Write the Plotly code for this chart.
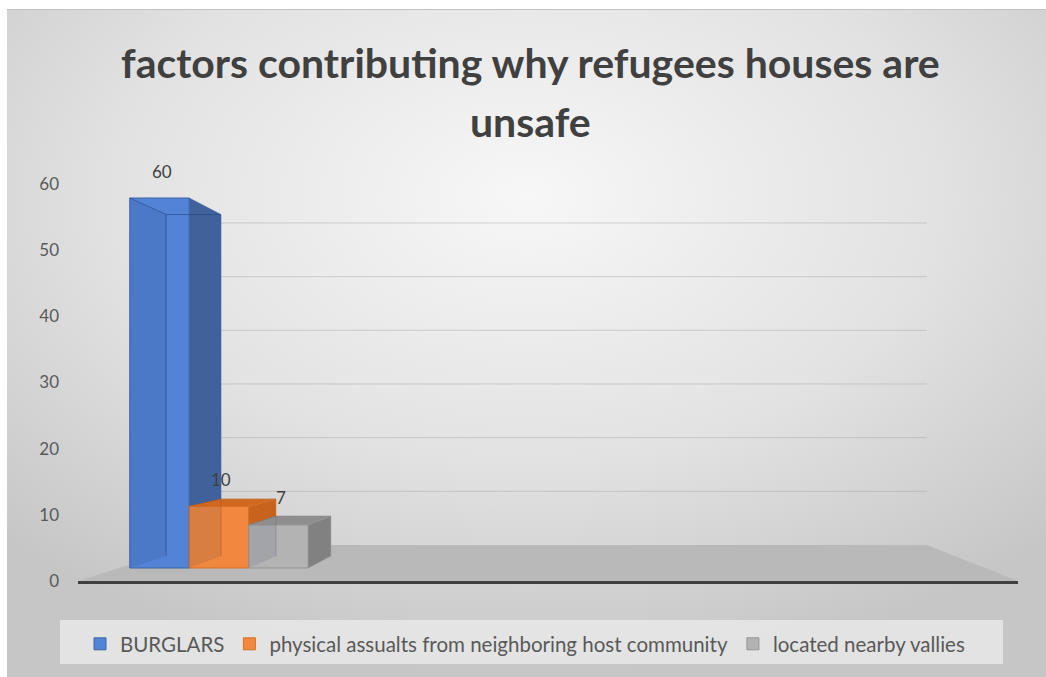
import base64
import plotly.graph_objects as go

# ---- data -------------------------------------------------------------
series_names = [
    "BURGLARS",
    "physical assualts from neighboring host community",
    "located nearby vallies",
]
series_values = [60, 10, 7]
tick_values = [0, 10, 20, 30, 40, 50, 60]
title_lines = ["factors contributing why refugees houses are", "unsafe"]

# ---- styling ----------------------------------------------------------
W, H = 1046, 677
front_colors = ["#5383d4", "#f0883f", "#b3b3b3"]
edge_colors = ["#3d64a8", "#d7701f", "#959595"]
top_colors = ["#4a6fae", "#d1681f", "#8e8e8e"]
side_colors = ["#41619a", "#c7631d", "#818181"]
hidden_colors = ["rgba(35,65,125,0.55)", "rgba(170,80,20,0.45)", "rgba(110,110,110,0.45)"]
font_family = "Lato, 'Open Sans', sans-serif"

# pixel geometry of the plotting box
PX_LEFT, PX_RIGHT = 78, 1018          # floor front edge / axis line
PX_ZERO, PX_TOP = 581, 184            # value-axis 0 and 60 labels
BAR_X0, BAR_UNIT = 159.5, 59.5        # centre of first bar, bar width (px)
BAR_BASE, BAR_SCALE = 568, 6.1667     # bar baseline (px) and px per unit
BACK_ZERO, BACK_SCALE = 545, 5.367    # back wall: baseline and px per unit
FLOOR_BACK_L, FLOOR_BACK_R = 192, 927
DEPTH = 0.077                         # box depth as fraction toward vanishing point
TICK_SCALE = (PX_ZERO - PX_TOP) / 60.0


def fx(px):
    return px / W


def fy(py):
    return 1 - py / H


def x_of_px(px):
    return (px - BAR_X0) / BAR_UNIT


def tick_of_py(py):
    return (PX_ZERO - py) / TICK_SCALE


# bar axis ranges derived from the pixel geometry
x_range = [x_of_px(PX_LEFT), x_of_px(PX_RIGHT)]
bar_y_range = [(BAR_BASE - PX_ZERO) / BAR_SCALE, (BAR_BASE - PX_TOP) / BAR_SCALE]
vanish = (x_of_px(602), (BAR_BASE - 413) / BAR_SCALE)


def back(p):
    return (p[0] + DEPTH * (vanish[0] - p[0]), p[1] + DEPTH * (vanish[1] - p[1]))


fig = go.Figure()

# ---- floor slab and back-wall gridlines on the value axis ---------------
floor_x = [x_of_px(PX_LEFT), x_of_px(PX_RIGHT), x_of_px(FLOOR_BACK_R),
           x_of_px(FLOOR_BACK_L), x_of_px(PX_LEFT)]
floor_y = [0, 0, tick_of_py(BACK_ZERO), tick_of_py(BACK_ZERO), 0]
fig.add_trace(go.Scatter(
    x=floor_x, y=floor_y, xaxis="x", yaxis="y", mode="lines", fill="toself",
    fillcolor="#b9b9b9", line=dict(width=0), hoverinfo="skip", showlegend=False,
))
grid_x, grid_y = [], []
for t in tick_values[1:]:
    yb = tick_of_py(BACK_ZERO - BACK_SCALE * t)
    grid_x += [x_of_px(FLOOR_BACK_L), x_of_px(FLOOR_BACK_R), None]
    grid_y += [yb, yb, None]
fig.add_trace(go.Scatter(
    x=grid_x, y=grid_y, xaxis="x", yaxis="y", mode="lines",
    line=dict(color="rgba(165,165,165,0.45)", width=1),
    hoverinfo="skip", showlegend=False,
))

# ---- 3-D boxes: one overlaid axis per series so each box stacks in order --
for i, (name, val) in enumerate(zip(series_names, series_values)):
    yax = f"y{i + 2}"
    fig.add_trace(go.Bar(
        x=[i], y=[val], width=1, name=name, xaxis="x", yaxis=yax,
        marker=dict(color=front_colors[i], line=dict(color=edge_colors[i], width=1)),
        hoverinfo="name+y", showlegend=True,
    ))
    x0, x1 = i - 0.5, i + 0.5
    fl_b, fr_b, fr_t, fl_t = (x0, 0), (x1, 0), (x1, val), (x0, val)
    bfl_b, bfr_b, bfr_t, bfl_t = back(fl_b), back(fr_b), back(fr_t), back(fl_t)

    def poly(pts, fill, line_color=None, width=0):
        xs = [p[0] for p in pts] + [pts[0][0]]
        ys = [p[1] for p in pts] + [pts[0][1]]
        fig.add_trace(go.Scatter(
            x=xs, y=ys, xaxis="x", yaxis=yax, mode="lines", fill="toself",
            fillcolor=fill, line=dict(color=line_color or fill, width=width),
            hoverinfo="skip", showlegend=False,
        ))

    def edge(a, b, color):
        fig.add_trace(go.Scatter(
            x=[a[0], b[0]], y=[a[1], b[1]], xaxis="x", yaxis=yax, mode="lines",
            line=dict(color=color, width=1), hoverinfo="skip", showlegend=False,
        ))

    # inner left face seen through the translucent front
    poly([fl_b, fl_t, bfl_t, bfl_b], "rgba(20,40,90,0.10)")
    # right side face
    poly([fr_b, fr_t, bfr_t, bfr_b], side_colors[i], edge_colors[i], 0.5)
    # top face when it sits below eye level
    if val < vanish[1]:
        poly([fl_t, fr_t, bfr_t, bfl_t], top_colors[i], edge_colors[i], 0.5)
    # hidden back edges
    edge(bfl_b, bfl_t, hidden_colors[i])
    edge(fl_t, bfl_t, hidden_colors[i])
    edge(bfl_t, bfr_t, hidden_colors[i])

# ---- background -------------------------------------------------------
svg = (
    "<svg xmlns='http://www.w3.org/2000/svg' width='1039' height='668' preserveAspectRatio='none'>"
    "<defs><radialGradient id='g' cx='0.5' cy='0.28' r='0.72'>"
    "<stop offset='0' stop-color='#f7f7f7'/><stop offset='0.55' stop-color='#e2e2e2'/>"
    "<stop offset='1' stop-color='#c6c6c6'/></radialGradient></defs>"
    "<rect width='100%' height='100%' fill='url(#g)'/></svg>"
)
bg_src = "data:image/svg+xml;base64," + base64.b64encode(svg.encode()).decode()

shapes = [
    dict(type="line", xref="paper", yref="paper", x0=fx(7), x1=1, y0=fy(9.5), y1=fy(9.5),
         line=dict(color="#c2c2c2", width=1), layer="below"),
    # legend panel
    dict(type="rect", xref="paper", yref="paper", layer="below",
         x0=fx(60), x1=fx(1003), y0=fy(664), y1=fy(620),
         fillcolor="rgba(236,236,236,0.75)", line=dict(width=0)),
]

# ---- annotations: title and data labels --------------------------------
title_font = dict(family=font_family, size=41, color="#404040")
annotations = [
    dict(text=f"<b>{title_lines[0]}</b>", xref="paper", yref="paper", x=fx(530), y=fy(63),
         showarrow=False, xanchor="center", yanchor="middle", font=title_font),
    dict(text=f"<b>{title_lines[1]}</b>", xref="paper", yref="paper", x=fx(530), y=fy(121),
         showarrow=False, xanchor="center", yanchor="middle", font=title_font),
]
for i, val in enumerate(series_values):
    annotations.append(dict(
        text=str(val), x=i, y=val, xref="x", yref=f"y{i + 2}", showarrow=False,
        xshift=2, yshift=27, font=dict(family=font_family, size=17, color="#404040"),
    ))

bar_axis = dict(range=bar_y_range, overlaying="y", anchor="x", visible=False,
                showgrid=False, zeroline=False, fixedrange=True)

fig.update_layout(
    width=W, height=H, autosize=False,
    margin=dict(l=0, r=0, t=0, b=0, pad=0, autoexpand=False),
    paper_bgcolor="white", plot_bgcolor="rgba(0,0,0,0)",
    barmode="overlay",
    images=[dict(source=bg_src, xref="paper", yref="paper", x=fx(7), y=fy(9),
                 sizex=fx(W - 7), sizey=(H - 9) / H, sizing="stretch",
                 xanchor="left", yanchor="top", layer="below")],
    xaxis=dict(domain=[fx(PX_LEFT), fx(PX_RIGHT)], range=x_range, showgrid=False,
               zeroline=False, showticklabels=False, ticks="", showline=True,
               linecolor="#404040", linewidth=2.5, anchor="y", fixedrange=True),
    yaxis=dict(domain=[fy(PX_ZERO), fy(PX_TOP)], range=[0, 60], tickvals=tick_values,
               showgrid=False, zeroline=False, showline=False, ticks="",
               ticklabelstandoff=18,
               tickfont=dict(family=font_family, size=17, color="#595959"),
               anchor="x", fixedrange=True),
    yaxis2=bar_axis, yaxis3=bar_axis, yaxis4=bar_axis,
    shapes=shapes,
    annotations=annotations,
    legend=dict(orientation="h", x=fx(80), y=fy(624), xanchor="left", yanchor="top",
                bgcolor="rgba(0,0,0,0)",
                font=dict(family=font_family, size=20.5, color="#595959")),
    showlegend=True,
)

fig.write_html("out.html")
